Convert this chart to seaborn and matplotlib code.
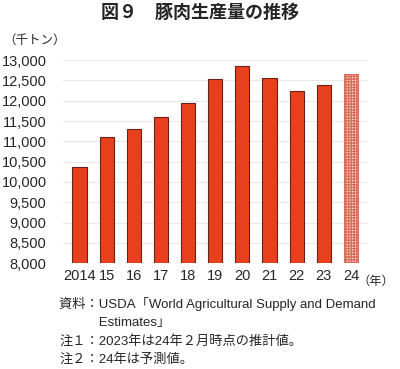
import matplotlib
matplotlib.use("Agg")
import matplotlib.pyplot as plt
import seaborn as sns
import pandas as pd

years = ["2014", "15", "16", "17", "18", "19", "20", "21", "22", "23", "24"]
production = [10360, 11110, 11310, 11600, 11940, 12535, 12845, 12550, 12250, 12385, 12655]
yticks = [8000, 8500, 9000, 9500, 10000, 10500, 11000, 11500, 12000, 12500, 13000]

title = "図９　豚肉生産量の推移"
unit_label = "（千トン）"
year_label = "（年）"
notes = [
    "資料：USDA「World Agricultural Supply and Demand",
    "　　　Estimates」",
    "注１：2023年は24年２月時点の推計値。",
    "注２：24年は予測値。",
]

sns.set_theme(style="white")
plt.rcParams["font.family"] = ["Liberation Sans", "Noto Sans CJK JP", "DejaVu Sans"]
cjk = ["Noto Sans CJK JP", "DejaVu Sans"]

df = pd.DataFrame({"year": years, "value": production})

fig = plt.figure(figsize=(4.0, 3.69), dpi=100)
ax = fig.add_axes([0.158, 0.287, 0.76, 0.55])

sns.barplot(data=df, x="year", y="value", color="#e8401c", saturation=1,
            width=0.52, edgecolor="#6b2216", linewidth=0.8, ax=ax)

last = ax.patches[-1]
last.set_facecolor("#fde3dc")
last.set_hatch("++++++")
last.set_edgecolor("#d9705c")

ax.set_ylim(8000, 13000)
ax.set_yticks(yticks)
ax.set_yticklabels([f"{v:,}" for v in yticks], fontsize=10.5)
ax.set_xlim(-0.6, len(years) - 0.4)
ax.tick_params(axis="x", labelsize=10.5, pad=4, length=0)
ax.tick_params(axis="y", pad=12, length=0)
ax.yaxis.grid(True, color="#e8e8e8", linewidth=0.8)
ax.set_axisbelow(True)
for s in ax.spines.values():
    s.set_visible(False)
ax.set_xlabel("")
ax.set_ylabel("")

fig.text(0.5, 0.965, title, ha="center", va="center", fontsize=13, fontweight="bold", family=cjk)
fig.text(0.008, 0.892, unit_label, ha="left", va="center", fontsize=9, family=cjk)
fig.text(0.985, 0.238, year_label, ha="right", va="center", fontsize=8.8, family=cjk)

ys = [0.176, 0.124, 0.074, 0.027]
for t, y in zip(notes, ys):
    fig.text(0.148, y, t, ha="left", va="center", fontsize=9.5)

fig.savefig("out.png", dpi=100)
